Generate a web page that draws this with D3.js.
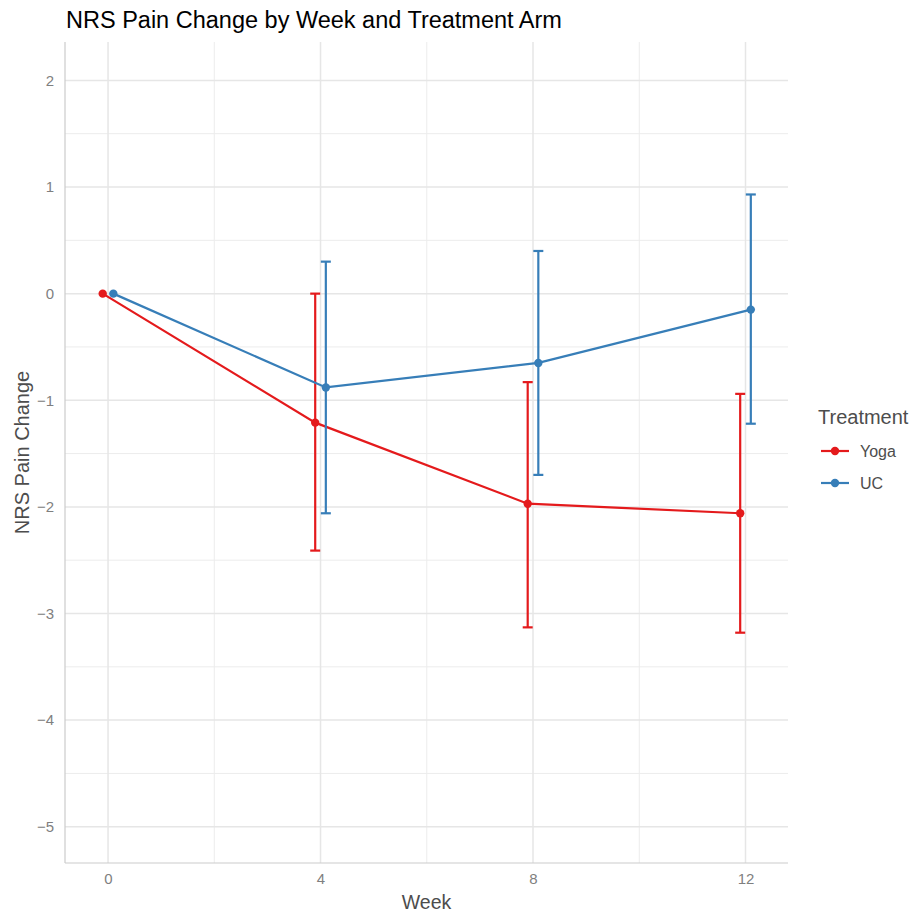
<!DOCTYPE html>
<html>
<head>
<meta charset="utf-8">
<script src="https://cdn.jsdelivr.net/npm/d3@7"></script>
<style>
  body { margin: 0; background: #fff; }
  text { font-family: "Liberation Sans", Arial, Helvetica, sans-serif; }
</style>
</head>
<body>
<svg id="chart" width="909" height="913"></svg>
<script>
const weeks = [0, 4, 8, 12];
const xTicks = [0, 4, 8, 12];
const xMinor = [2, 6, 10];
const yTicks = [2, 1, 0, -1, -2, -3, -4, -5];
const yMinor = [1.5, 0.5, -0.5, -1.5, -2.5, -3.5, -4.5];
const treatments = ["Yoga", "UC"];
const colors = ["#E41A1C", "#377EB8"];
const yogaMean = [0, -1.21, -1.97, -2.06];
const yogaLow  = [0, -2.41, -3.13, -3.18];
const yogaHigh = [0, 0.00, -0.83, -0.94];
const ucMean = [0, -0.88, -0.65, -0.15];
const ucLow  = [0, -2.06, -1.70, -1.22];
const ucHigh = [0, 0.30, 0.40, 0.93];

const series = [
  { name: "Yoga", color: colors[0], dodge: -0.1, mean: yogaMean, low: yogaLow, high: yogaHigh },
  { name: "UC", color: colors[1], dodge: 0.1, mean: ucMean, low: ucLow, high: ucHigh }
];

const svg = d3.select("#chart");
const L = 65, R = 788, T = 42, B = 863;

const x = d3.scaleLinear().domain([-0.81, 12.8]).range([L, R]);
const y = d3.scaleLinear().domain([-5.34, 2.36]).range([B, T]);

// grid
const g = svg.append("g");
g.selectAll(".ymin").data(yMinor).join("line")
  .attr("x1", L).attr("x2", R).attr("y1", d => y(d)).attr("y2", d => y(d))
  .attr("stroke", "#ececec").attr("stroke-width", 1);
g.selectAll(".xmin").data(xMinor).join("line")
  .attr("y1", T).attr("y2", B).attr("x1", d => x(d)).attr("x2", d => x(d))
  .attr("stroke", "#ececec").attr("stroke-width", 1);
g.selectAll(".ymaj").data(yTicks).join("line")
  .attr("x1", L).attr("x2", R).attr("y1", d => y(d)).attr("y2", d => y(d))
  .attr("stroke", "#e6e6e6").attr("stroke-width", 1.5);
g.selectAll(".xmaj").data(xTicks).join("line")
  .attr("y1", T).attr("y2", B).attr("x1", d => x(d)).attr("x2", d => x(d))
  .attr("stroke", "#e6e6e6").attr("stroke-width", 1.5);

// axis lines
svg.append("line").attr("x1", L).attr("x2", L).attr("y1", T).attr("y2", B)
  .attr("stroke", "#cccccc").attr("stroke-width", 1.2);
svg.append("line").attr("x1", L).attr("x2", R).attr("y1", B).attr("y2", B)
  .attr("stroke", "#cccccc").attr("stroke-width", 1.2);

// axes labels via d3 axis
const xAxis = svg.append("g").attr("transform", `translate(0,${B})`)
  .call(d3.axisBottom(x).tickValues(xTicks).tickSize(0).tickPadding(10).tickFormat(d3.format("d")));
xAxis.select(".domain").remove();
xAxis.selectAll("text").attr("fill", "#7f7f7f").attr("font-size", 15).attr("dy", "0.71em");

const yAxis = svg.append("g").attr("transform", `translate(${L},0)`)
  .call(d3.axisLeft(y).tickValues(yTicks).tickSize(0).tickPadding(11).tickFormat(d => d < 0 ? "\u2212" + Math.abs(d) : d));
yAxis.select(".domain").remove();
yAxis.selectAll("text").attr("fill", "#7f7f7f").attr("font-size", 15);

// titles
svg.append("text").attr("x", 66).attr("y", 28).attr("font-size", 23.5).attr("fill", "#000")
  .text("NRS Pain Change by Week and Treatment Arm");
svg.append("text").attr("x", (L + R) / 2).attr("y", 909).attr("text-anchor", "middle")
  .attr("font-size", 19.5).attr("fill", "#4d4d4d").text("Week");
svg.append("text").attr("transform", `translate(29,${(T + B) / 2}) rotate(-90)`)
  .attr("text-anchor", "middle").attr("font-size", 20).attr("fill", "#4d4d4d").text("NRS Pain Change");

// series
const line = d3.line().x(d => d.px).y(d => d.py);
series.forEach(s => {
  const pts = weeks.map((w, i) => ({ w, m: s.mean[i], lo: s.low[i], hi: s.high[i],
    px: x(w + s.dodge), py: y(s.mean[i]) }));
  const sg = svg.append("g");
  const ebs = pts.filter(p => p.hi !== p.lo);
  sg.selectAll(".eb").data(ebs).join("line")
    .attr("x1", p => p.px).attr("x2", p => p.px)
    .attr("y1", p => y(p.lo)).attr("y2", p => y(p.hi))
    .attr("stroke", s.color).attr("stroke-width", 2.2);
  ["lo", "hi"].forEach(k => {
    sg.selectAll(".cap" + k).data(ebs).join("line")
      .attr("x1", p => p.px - 5).attr("x2", p => p.px + 5)
      .attr("y1", p => y(p[k])).attr("y2", p => y(p[k]))
      .attr("stroke", s.color).attr("stroke-width", 2.2);
  });
  sg.append("path").datum(pts).attr("d", line).attr("fill", "none")
    .attr("stroke", s.color).attr("stroke-width", 2.2);
  sg.selectAll("circle").data(pts).join("circle")
    .attr("cx", p => p.px).attr("cy", p => p.py).attr("r", 4.2).attr("fill", s.color);
});

// legend
const lg = svg.append("g");
lg.append("text").attr("x", 818).attr("y", 424).attr("font-size", 20).attr("fill", "#4d4d4d").text("Treatment");
series.forEach((s, i) => {
  const yy = 451 + i * 32;
  lg.append("line").attr("x1", 821).attr("x2", 849).attr("y1", yy).attr("y2", yy)
    .attr("stroke", s.color).attr("stroke-width", 2.2);
  lg.append("circle").attr("cx", 835).attr("cy", yy).attr("r", 4.2).attr("fill", s.color);
  lg.append("text").attr("x", 860).attr("y", yy + 5.5).attr("font-size", 16).attr("fill", "#4d4d4d").text(treatments[i]);
});
</script>
</body>
</html>
